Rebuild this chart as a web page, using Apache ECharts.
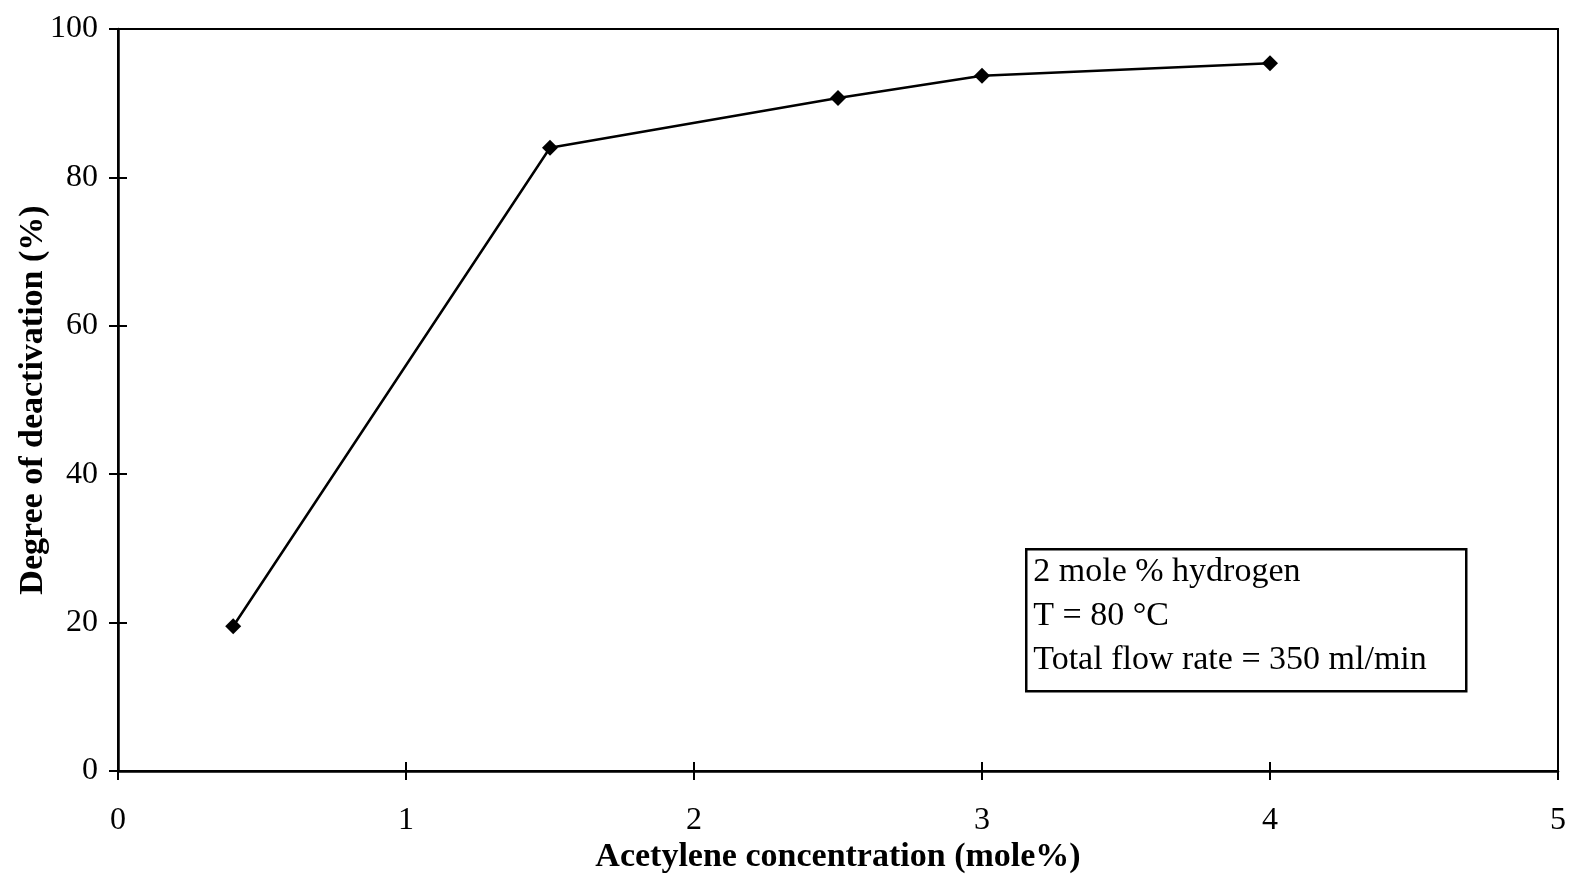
<!DOCTYPE html>
<html>
<head>
<meta charset="utf-8">
<script src="https://cdn.jsdelivr.net/npm/echarts@6/dist/echarts.min.js"></script>
<style>
  html, body { margin: 0; padding: 0; background: #fff; }
  #chart { width: 1575px; height: 874px; }
</style>
</head>
<body>
<div id="chart"></div>
<script>
// acetylene concentration (mole%) vs degree of deactivation (%)
var concentration = [0.4, 1.5, 2.5, 3.0, 4.0];
var deactivation = [19.5, 84.0, 90.7, 93.7, 95.4];
var noteLines = ["2 mole % hydrogen", "T = 80 \u00B0C", "Total flow rate = 350 ml/min"];

var serif = "'Liberation Serif', 'DejaVu Serif', serif";
var chart = echarts.init(document.getElementById("chart"));

var pts = concentration.map(function (x, i) { return [x, deactivation[i]]; });

var option = {
  backgroundColor: "#fff",
  animation: false,
  grid: {
    left: 118, right: 17, top: 29, bottom: 103,
    outerBoundsMode: "none",
    show: true, borderColor: "#000", borderWidth: 2, backgroundColor: "transparent"
  },
  xAxis: [
    {
      type: "value", min: 0, max: 5, interval: 1,
      name: "Acetylene concentration (mole%)",
      nameLocation: "middle", nameGap: 69, nameMoveOverlap: false,
      nameTextStyle: { fontFamily: serif, fontSize: 34, fontWeight: "bold", color: "#000" },
      axisLine: { show: true, onZero: false, lineStyle: { color: "#000", width: 2.5 } },
      axisTick: { show: true, length: 9, lineStyle: { color: "#000", width: 2 } },
      axisLabel: { fontFamily: serif, fontSize: 32, color: "#000", margin: 34 },
      splitLine: { show: false }
    },
    {
      type: "value", min: 0, max: 5, interval: 1, position: "bottom",
      axisLine: { show: false },
      axisTick: { show: true, inside: true, length: 9, lineStyle: { color: "#000", width: 2 } },
      axisLabel: { show: false },
      splitLine: { show: false }
    }
  ],
  yAxis: [
    {
      type: "value", min: 0, max: 100, interval: 20,
      name: "Degree of deactivation (%)",
      nameLocation: "middle", nameGap: 68, nameMoveOverlap: false,
      nameTextStyle: { fontFamily: serif, fontSize: 34, fontWeight: "bold", color: "#000" },
      axisLine: { show: true, onZero: false, lineStyle: { color: "#000", width: 2.5 } },
      axisTick: { show: true, length: 9, lineStyle: { color: "#000", width: 2 } },
      axisLabel: { fontFamily: serif, fontSize: 32, color: "#000", margin: 20 },
      splitLine: { show: false }
    },
    {
      type: "value", min: 0, max: 100, interval: 20, position: "left",
      axisLine: { show: false },
      axisTick: { show: true, inside: true, length: 9, lineStyle: { color: "#000", width: 2 } },
      axisLabel: { show: false },
      splitLine: { show: false }
    }
  ],
  series: [
    {
      type: "line",
      data: pts,
      symbol: "diamond",
      symbolSize: 16,
      itemStyle: { color: "#000" },
      lineStyle: { color: "#000", width: 2.5 }
    }
  ],
  graphic: [
    {
      type: "group",
      left: 1025, top: 548,
      children: [
        {
          type: "rect",
          shape: { x: 0, y: 0, width: 440, height: 142 },
          style: { fill: "#fff", stroke: "#000", lineWidth: 2.5 }
        }
      ].concat(noteLines.map(function (t, i) {
        return {
          type: "text",
          x: 7, y: 23 + i * 44,
          style: {
            text: t, fill: "#000", font: "34px " + serif,
            textVerticalAlign: "middle"
          }
        };
      }))
    }
  ]
};

chart.setOption(option);
</script>
</body>
</html>
